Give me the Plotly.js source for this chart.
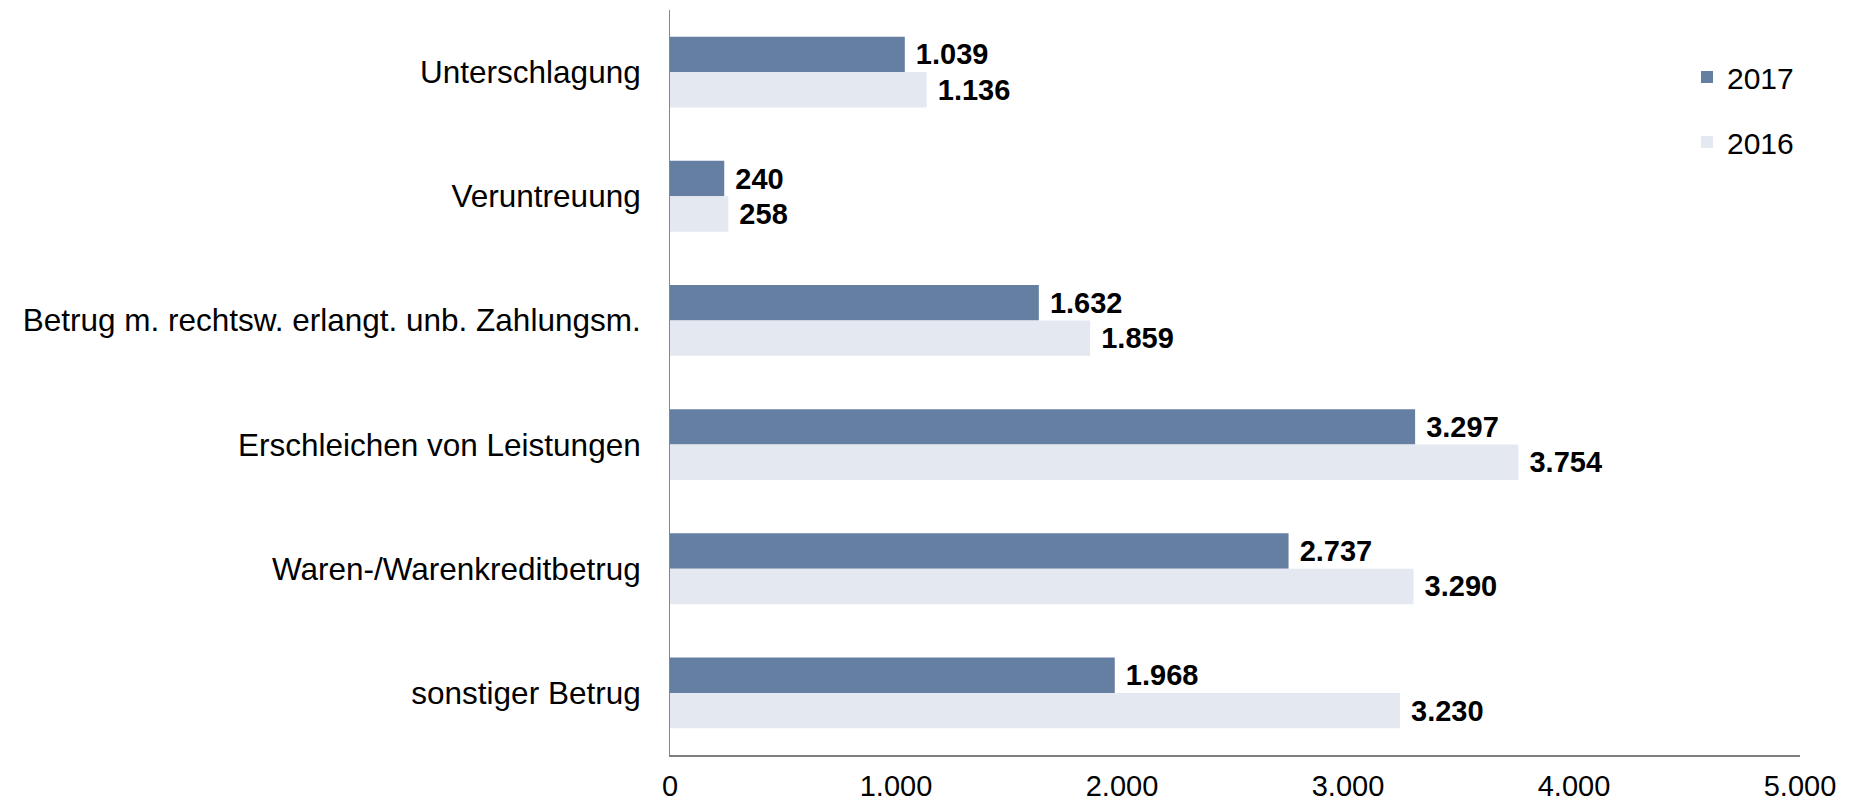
<!DOCTYPE html>
<html>
<head>
<meta charset="utf-8">
<script src="https://cdn.plot.ly/plotly-3.0.1.min.js"></script>
<style>html,body{margin:0;padding:0;background:#fff;}#chart{width:1859px;height:804px;}</style>
</head>
<body>
<div id="chart"></div>
<script>
var categories = ["Unterschlagung", "Veruntreuung", "Betrug m. rechtsw. erlangt. unb. Zahlungsm.", "Erschleichen von Leistungen", "Waren-/Warenkreditbetrug", "sonstiger Betrug"];
var values2017 = [1039, 240, 1632, 3297, 2737, 1968];
var values2016 = [1136, 258, 1859, 3754, 3290, 3230];
var seriesNames = ["2017", "2016"];
var xTicks = [0, 1000, 2000, 3000, 4000, 5000];

var FONT = "Liberation Sans, Arial, sans-serif";
var common = {
  type: "bar",
  orientation: "h",
  y: categories,
  textposition: "outside",
  texttemplate: "\u00a0%{x:,d}",
  textfont: {family: FONT, size: 29, color: "#000000", weight: "bold"},
  constraintext: "none",
  cliponaxis: false,
  hoverinfo: "none"
};
var t1 = Object.assign({}, common, {name: seriesNames[0], x: values2017, marker: {color: "#657fa3"}, legendgroup: "a"});
var t2 = Object.assign({}, common, {name: seriesNames[1], x: values2016, marker: {color: "#e4e8f0"}, legendgroup: "b"});

var layout = {
  width: 1859, height: 804,
  margin: {l: 670, r: 59, t: 10, b: 49, pad: 0},
  paper_bgcolor: "#ffffff", plot_bgcolor: "#ffffff",
  separators: ",.",
  font: {family: FONT, size: 29, color: "#000000"},
  barmode: "group",
  bargap: 0.43,
  bargroupgap: 0,
  showlegend: true,
  legend: {x: 0.9, y: 0.945, xanchor: "left", yanchor: "top", traceorder: "grouped", tracegroupgap: 23,
           font: {family: FONT, size: 30, color: "#000000"}, bgcolor: "rgba(0,0,0,0)"},
  xaxis: {range: [0, 5000], tickvals: xTicks, tickformat: ",d", showgrid: false, zeroline: false,
          showline: true, linecolor: "#7f7f7f", linewidth: 1.5, ticks: "", ticklabelstandoff: 5,
          tickfont: {family: FONT, size: 29, color: "#000000"}, fixedrange: true},
  yaxis: {type: "category", categoryorder: "array", categoryarray: categories, autorange: "reversed",
          showgrid: false, zeroline: false, showline: true, linecolor: "#868686", linewidth: 1,
          ticks: "", ticklabelstandoff: 22, tickfont: {family: FONT, size: 31.5, color: "#000000"}, fixedrange: true}
};

Plotly.newPlot("chart", [t1, t2], layout, {staticPlot: true, displayModeBar: false});
</script>
</body>
</html>
